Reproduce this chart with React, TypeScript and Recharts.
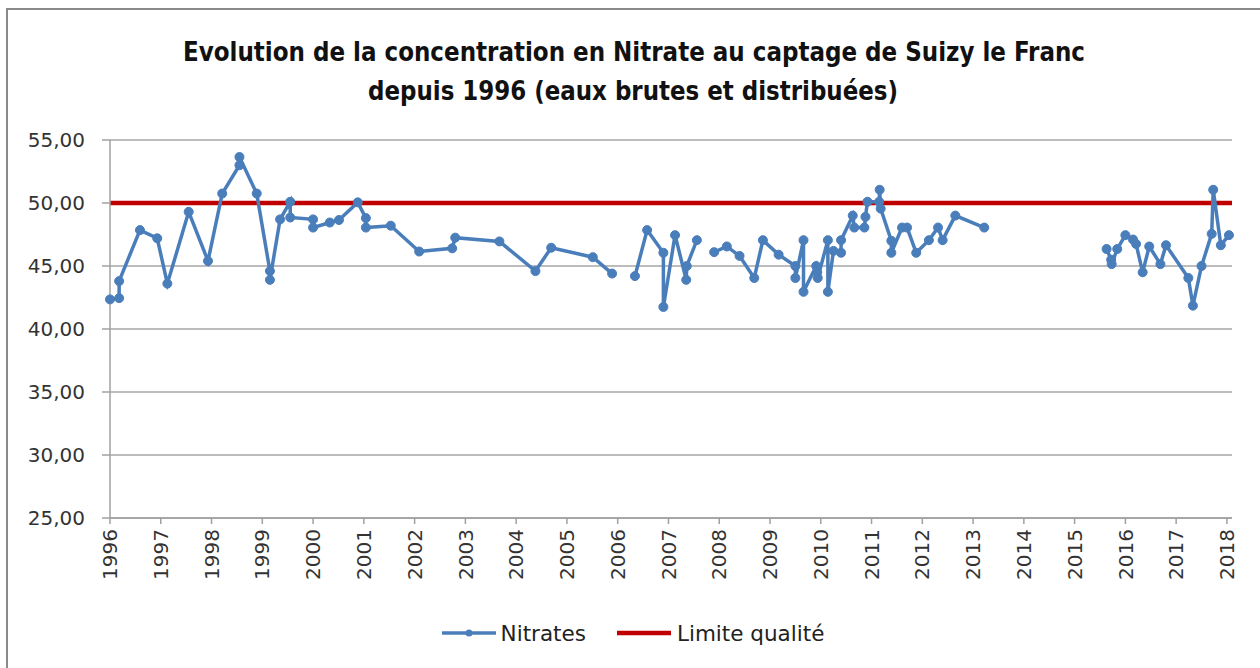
import React from 'react';
import { LineChart, Line, XAxis, YAxis, CartesianGrid, Legend } from 'recharts';

// Sampling dates (decimal years); null values break the line
const sampleDates: number[] = [
  1996.0, 1996.18, 1996.18, 1996.59, 1996.93, 1997.13, 1997.55, 1997.93, 1998.21, 1998.55,
  1998.55, 1998.89, 1999.15, 1999.15, 1999.35, 1999.55, 1999.55, 2000.0, 2000.0, 2000.33,
  2000.51, 2000.88, 2001.04, 2001.04, 2001.53, 2002.09, 2002.74, 2002.8, 2003.67, 2004.38,
  2004.69, 2005.51, 2005.89, 2006.1,
  2006.34, 2006.58, 2006.9, 2006.9, 2007.13, 2007.35, 2007.36, 2007.56, 2007.7,
  2007.9, 2008.15, 2008.4, 2008.69, 2008.86, 2009.17, 2009.5, 2009.5, 2009.66, 2009.66,
  2009.91, 2009.93, 2009.94, 2010.14, 2010.14, 2010.25, 2010.4, 2010.4, 2010.63, 2010.66,
  2010.86, 2010.88, 2010.92, 2011.15, 2011.16, 2011.18, 2011.39, 2011.39, 2011.6, 2011.7,
  2011.88, 2012.13, 2012.31, 2012.4, 2012.65, 2013.22, 2014.0,
  2015.63, 2015.72, 2015.73, 2015.84, 2016.0, 2016.15, 2016.21, 2016.34, 2016.47, 2016.69,
  2016.8, 2017.24, 2017.33, 2017.5, 2017.7, 2017.73, 2017.88, 2018.04, 2018.1,
];

const nitrates: (number | null)[] = [
  42.35, 42.45, 43.8, 47.85, 47.2, 43.6, 49.3, 45.4, 50.75, 53.0,
  53.65, 50.75, 44.6, 43.9, 48.7, 50.1, 48.85, 48.7, 48.05, 48.45,
  48.65, 50.05, 48.8, 48.05, 48.2, 46.15, 46.4, 47.25, 46.95, 44.6,
  46.45, 45.7, 44.4, null,
  44.2, 47.85, 46.05, 41.75, 47.45, 43.9, 45.0, 47.05, null,
  46.1, 46.55, 45.8, 44.05, 47.05, 45.9, 45.0, 44.05, 47.05, 42.95,
  45.0, 44.5, 44.05, 47.05, 42.95, 46.2, 46.05, 47.05, 49.0, 48.05,
  48.05, 48.9, 50.1, 50.1, 51.05, 49.55, 47.0, 46.05, 48.05, 48.05,
  46.05, 47.05, 48.05, 47.05, 49.0, 48.05, null,
  46.35, 45.5, 45.15, 46.35, 47.45, 47.1, 46.75, 44.5, 46.55, 45.15,
  46.65, 44.05, 41.85, 45.0, 47.55, 51.05, 46.65, 47.45, null,
];

const qualityLimit = 50;
const yearTicks: number[] = [
  1996, 1997, 1998, 1999, 2000, 2001, 2002, 2003, 2004, 2005, 2006,
  2007, 2008, 2009, 2010, 2011, 2012, 2013, 2014, 2015, 2016, 2017, 2018,
];
const valueTicks: number[] = [25, 30, 35, 40, 45, 50, 55];
const titleLines: string[] = [
  'Evolution de la concentration  en Nitrate au captage de Suizy le Franc',
  'depuis 1996 (eaux brutes et distribuées)',
];
const seriesNames = { nitrates: 'Nitrates', limit: 'Limite qualité' };

const data = sampleDates.map((d, i) => ({ date: d, nitrates: nitrates[i], limite: qualityLimit }));

const BLUE = '#4a7ebb';
const RED = '#c00000';
const AXIS_FONT = "'DejaVu Sans', Verdana, sans-serif";

const XTick = (props: any) => {
  const { x, y, payload } = props;
  return (
    <text
      x={x}
      y={y}
      transform={`rotate(-90, ${x}, ${y})`}
      textAnchor="end"
      dy="0.36em"
      fontFamily={AXIS_FONT}
      fontSize={20}
      fill="#333"
    >
      {payload.value}
    </text>
  );
};

const LegendContent = () => (
  <div
    style={{
      display: 'flex',
      justifyContent: 'center',
      alignItems: 'center',
      height: 30,
      fontFamily: AXIS_FONT,
      fontSize: 21.5,
      color: '#222',
      paddingLeft: 6,
    }}
  >
    <svg width={54} height={12} style={{ marginRight: 5 }}>
      <line x1={0} y1={6} x2={54} y2={6} stroke={BLUE} strokeWidth={3.5} />
      <circle cx={27} cy={6} r={3.5} fill={BLUE} />
    </svg>
    <span>{seriesNames.nitrates}</span>
    <svg width={54} height={12} style={{ marginLeft: 31, marginRight: 6 }}>
      <line x1={0} y1={6} x2={54} y2={6} stroke={RED} strokeWidth={4.5} />
    </svg>
    <span>{seriesNames.limit}</span>
  </div>
);

export default function App() {
  return (
    <div
      style={{
        position: 'fixed',
        left: 0,
        top: 0,
        width: 1260,
        height: 668,
        overflow: 'hidden',
        background: '#fff',
      }}
    >
      <div
        style={{
          position: 'absolute',
          left: 6,
          top: 8,
          width: 1280,
          height: 700,
          border: '2px solid #8a8a8a',
        }}
      />
      <svg
        width={1260}
        height={120}
        style={{ position: 'absolute', left: 0, top: 0 }}
      >
        <text
          x={183}
          y={61}
          textLength={902}
          lengthAdjust="spacingAndGlyphs"
          fontFamily="'Liberation Sans Narrow', 'DejaVu Sans Condensed', 'Roboto', sans-serif"
          fontWeight="bold"
          fontSize={26}
          fill="#111"
        >
          {titleLines[0]}
        </text>
        <text
          x={368}
          y={100}
          textLength={530}
          lengthAdjust="spacingAndGlyphs"
          fontFamily="'Liberation Sans Narrow', 'DejaVu Sans Condensed', 'Roboto', sans-serif"
          fontWeight="bold"
          fontSize={26}
          fill="#111"
        >
          {titleLines[1]}
        </text>
      </svg>
      <div style={{ position: 'absolute', left: 0, top: 0 }}>
        <LineChart
          width={1260}
          height={668}
          data={data}
          margin={{ top: 140, right: 28, bottom: 50, left: 10 }}
        >
          <CartesianGrid horizontal vertical={false} stroke="#a6a6a6" strokeWidth={1.5} />
          <XAxis
            dataKey="date"
            type="number"
            domain={[1996, 2018.1]}
            ticks={yearTicks}
            interval={0}
            height={70}
            tickSize={6}
            tickMargin={5}
            tick={<XTick />}
            axisLine={{ stroke: '#a0a0a0', strokeWidth: 1.5 }}
            tickLine={{ stroke: '#a0a0a0', strokeWidth: 1.5 }}
          />
          <YAxis
            type="number"
            domain={[25, 55]}
            ticks={valueTicks}
            interval={0}
            width={100}
            tickSize={8}
            tickMargin={17}
            tickFormatter={(v: number) => v.toFixed(2).replace('.', ',')}
            tick={{ fontFamily: AXIS_FONT, fontSize: 20, fill: '#333' }}
            axisLine={{ stroke: '#a0a0a0', strokeWidth: 1.5 }}
            tickLine={{ stroke: '#a0a0a0', strokeWidth: 1.5 }}
          />
          <Legend
            verticalAlign="bottom"
            content={<LegendContent />}
            wrapperStyle={{ position: 'absolute', top: 618, left: 0, width: 1260, height: 30 }}
          />
          <Line
            dataKey="limite"
            name={seriesNames.limit}
            stroke={RED}
            strokeWidth={4.5}
            dot={false}
            activeDot={false}
            isAnimationActive={false}
          />
          <Line
            dataKey="nitrates"
            name={seriesNames.nitrates}
            stroke={BLUE}
            strokeWidth={3.5}
            dot={{ r: 4.5, fill: BLUE, stroke: BLUE, strokeWidth: 1 }}
            activeDot={false}
            connectNulls={false}
            isAnimationActive={false}
          />
        </LineChart>
      </div>
    </div>
  );
}
